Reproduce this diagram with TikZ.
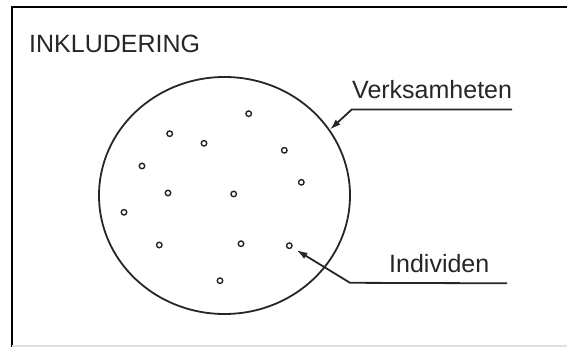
\documentclass[tikz,border=0pt]{standalone}
\usepackage{fontspec}
\setmainfont{Liberation Sans}
\usepackage{tikz}
\usetikzlibrary{arrows.meta, shapes.geometric}

\begin{document}
\begin{tikzpicture}[x=1pt, y=-1pt,
    dot/.style={circle, draw=black!85, fill=white, line width=1.4pt, inner sep=0pt, minimum size=5.5pt},
    label/.style={anchor=base west, inner sep=0pt, text=black!85, font=\fontsize{25}{30}\selectfont},
    pointer/.style={line width=1.8pt, draw=black!85}]
        \tikzset{>={Latex[length=11pt,width=7pt]}}
        \useasboundingbox (0,0) rectangle (567,347);

        % Frame
        \draw[line width=2pt] (12,347) -- (12,7) -- (567,7);
        \draw[line width=1.5pt, black!12] (12,346) -- (567,346);

        % Title
        \node[label] (title) at (29,52.5) {INKLUDERING};

        % The organisation
        \node[draw=black!85, line width=1.8pt, ellipse, inner sep=0pt,
              minimum width=251pt, minimum height=237pt] (verksamhet) at (224.5,195.5) {};

        % The individuals
        \foreach \px/\py [count=\i] in {248.7/113.7, 169.7/133.7, 204/143.3, 284.3/150.3,
                                        142/166, 301.3/182.3, 168/193, 233.7/194,
                                        124/212.3, 159.3/245, 241/243.7, 289.3/245.7,
                                        220/280.7} {
          \node[dot] (ind\i) at (\px,\py) {};
        }

        % Labels
        \node[label] (verklabel) at (352,98.5) {Verksamheten};
        \node[label] (indlabel) at (389,272.5) {Individen};

        \coordinate (verkknee) at (351.7,109.5);
        \coordinate (verkend) at (512,109.5);
        \coordinate (indknee) at (350,282.8);
        \coordinate (indend) at (507,283.3);

        \draw[pointer,->] (verkend) -- (verkknee) -- (verksamhet.32.3);
        \draw[pointer,->,shorten >=5pt] (indend) -- (indknee) -- (ind12);
\end{tikzpicture}
\end{document}
